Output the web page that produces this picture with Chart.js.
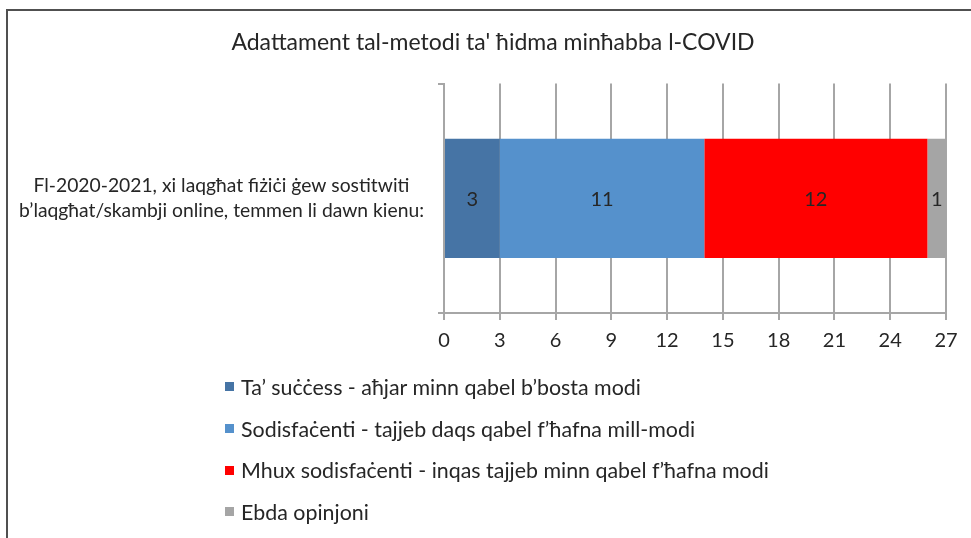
<!DOCTYPE html>
<html>
<head>
<meta charset="utf-8">
<script src="https://cdn.jsdelivr.net/npm/chart.js@4.4.1/dist/chart.umd.min.js"></script>
<style>
html, body { margin: 0; padding: 0; background: #fff; }
#wrap { position: relative; width: 971px; height: 538px; overflow: hidden; font-family: Lato, sans-serif; }
#frame { position: absolute; left: 6px; top: 9px; width: 1200px; height: 1000px; border-left: 2px solid #505050; border-top: 2px solid #505050; }
canvas { position: absolute; left: 0; top: 0; }
#legend { position: absolute; left: 225px; top: 366px; font-size: 21.4px; color: #262626; }
.item { display: flex; align-items: center; height: 41.7px; white-space: nowrap; }
.box { width: 9px; height: 9px; margin-right: 7px; }
</style>
</head>
<body>
<div id="wrap">
  <div id="frame"></div>
  <canvas id="chart" width="971" height="538"></canvas>
  <div id="legend"></div>
</div>
<script>
// data
const categories = [['Fl-2020-2021, xi laqgħat fiżiċi ġew sostitwiti', 'b’laqgħat/skambji online, temmen li dawn kienu:']];
const seriesNames = [
    'Ta’ suċċess - aħjar minn qabel b’bosta modi',
    'Sodisfaċenti - tajjeb daqs qabel f’ħafna mill-modi',
    'Mhux sodisfaċenti - inqas tajjeb minn qabel f’ħafna modi',
    'Ebda opinjoni'
];
const seriesValues = [[3], [11], [12], [1]];
const seriesColors = ['#4674a5', '#5591cc', '#ff0000', '#a5a5a5'];
const axisMax = 27;
const axisStep = 3;

const textColor = '#262626';
const gridColor = '#a6a6a6';

// numbers in the middle of each segment
const valueLabels = {
    id: 'valueLabels',
    afterDatasetsDraw(chart) {
        const ctx = chart.ctx;
        ctx.save();
        ctx.font = '20px Lato, sans-serif';
        ctx.fillStyle = textColor;
        ctx.textAlign = 'center';
        ctx.textBaseline = 'middle';
        chart.data.datasets.forEach((ds, i) => {
            chart.getDatasetMeta(i).data.forEach((bar, j) => {
                const p = bar.getProps(['x', 'y', 'base'], true);
                ctx.fillText(ds.data[j], (p.x + p.base) / 2, p.y + 1);
            });
        });
        ctx.restore();
    }
};

// title sits a little right of the canvas centre
const shiftTitle = {
    id: 'shiftTitle',
    afterLayout(chart) {
        if (chart.titleBlock) chart.titleBlock.left = 40;
    }
};

const ctx = document.getElementById('chart').getContext('2d');

new Chart(ctx, {
    type: 'bar',
    data: {
        labels: categories,
        datasets: seriesNames.map((name, i) => ({
            label: name,
            data: seriesValues[i],
            backgroundColor: seriesColors[i],
            borderWidth: 0,
            barPercentage: 0.52,
            categoryPercentage: 1
        }))
    },
    options: {
        indexAxis: 'y',
        responsive: false,
        animation: false,
        layout: {
            padding: { left: 0, right: 25, top: 29, bottom: 185 }
        },
        scales: {
            x: {
                stacked: true,
                min: 0,
                max: axisMax,
                ticks: {
                    stepSize: axisStep,
                    color: textColor,
                    font: { family: 'Lato', size: 20 },
                    padding: 9,
                    maxRotation: 0
                },
                grid: { color: gridColor, lineWidth: 2, tickLength: 7 },
                border: { color: gridColor, width: 2 },
                afterFit(scale) { scale.height = 40; }
            },
            y: {
                stacked: true,
                ticks: {
                    color: textColor,
                    font: { family: 'Lato', size: 19.3, lineHeight: 1.25 },
                    crossAlign: 'center',
                    padding: 14
                },
                grid: { color: gridColor, lineWidth: 2, tickLength: 6, drawOnChartArea: false, offset: true },
                border: { color: gridColor, width: 2 },
                afterFit(scale) { scale.width = 444; }
            }
        },
        plugins: {
            legend: { display: false },
            tooltip: { enabled: false },
            title: {
                display: true,
                text: 'Adattament tal-metodi ta\' ħidma minħabba l-COVID',
                color: textColor,
                font: { family: 'Lato', size: 23, weight: 'normal' },
                padding: { top: 0, bottom: 27 }
            }
        }
    },
    plugins: [valueLabels, shiftTitle]
});

// legend list
const legendEl = document.getElementById('legend');
seriesNames.forEach((name, i) => {
    const row = document.createElement('div');
    row.className = 'item';
    row.innerHTML = '<span class="box" style="background:' + seriesColors[i] + '"></span>' + name;
    legendEl.appendChild(row);
});
</script>
</body>
</html>
